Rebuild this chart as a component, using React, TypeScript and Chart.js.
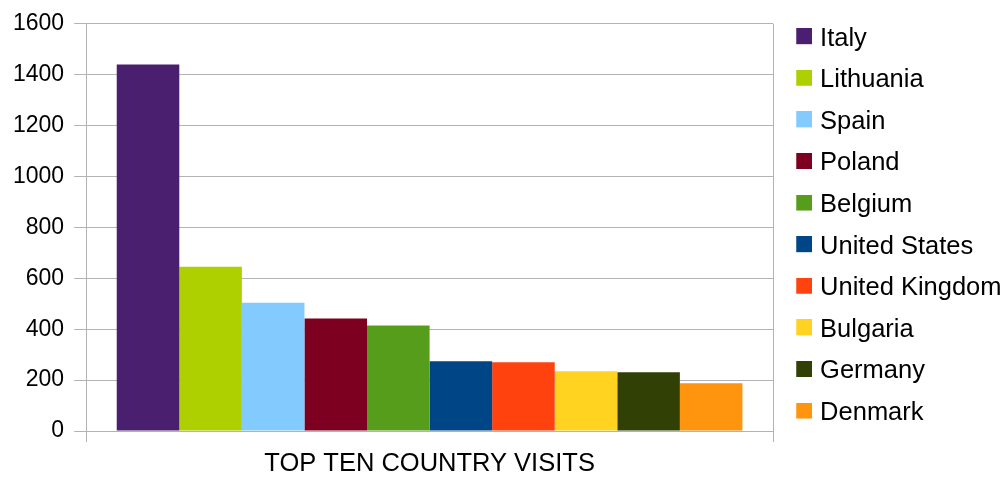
import React, { useEffect, useRef } from "react";
import { Chart, registerables } from "chart.js";

Chart.register(...registerables);

const categories = ["TOP TEN COUNTRY VISITS"];
const countries = [
  "Italy",
  "Lithuania",
  "Spain",
  "Poland",
  "Belgium",
  "United States",
  "United Kingdom",
  "Bulgaria",
  "Germany",
  "Denmark",
];
const visits = [1440, 645, 504, 442, 415, 274, 270, 235, 231, 188];
const palette = [
  "#4b1f6f",
  "#aecf00",
  "#83caff",
  "#7e0021",
  "#579d1c",
  "#004586",
  "#ff420e",
  "#ffd320",
  "#314004",
  "#ff950e",
];
const yTicks = [0, 200, 400, 600, 800, 1000, 1200, 1400, 1600];

function makeMarker(color: string) {
  const c = document.createElement("canvas");
  c.width = 28;
  c.height = 21;
  const g = c.getContext("2d")!;
  g.fillStyle = color;
  g.fillRect(12, 0, 16, 16);
  return c;
}

export default function App() {
  const ref = useRef<HTMLCanvasElement | null>(null);

  useEffect(() => {
    if (!ref.current) return;
    const family = "'Liberation Sans', Arial, sans-serif";
    const bigFont = { family, size: 25.5 };
    const tickFont = { family, size: 23 };
    const markers = palette.map(makeMarker);
    const chart = new Chart(ref.current, {
      type: "bar",
      data: {
        labels: categories,
        datasets: countries.map((name, i) => ({
          label: name,
          data: [visits[i]],
          backgroundColor: palette[i],
          borderWidth: 0,
          categoryPercentage: 0.911,
          barPercentage: 1,
        })),
      },
      options: {
        animation: false,
        responsive: true,
        maintainAspectRatio: false,
        layout: { padding: { left: 3, top: 8, right: 0, bottom: 0 } },
        plugins: {
          tooltip: { enabled: false },
          legend: {
            position: "right",
            align: "start",
            maxWidth: 234,
            title: { display: true, text: "", padding: 0, font: { family, size: 1.5 } },
            labels: {
              font: bigFont,
              color: "#000",
              usePointStyle: true,
              pointStyleWidth: 18.25,
              boxWidth: 16,
              boxHeight: 16,
              padding: 16.1,
              generateLabels: (ch: any) => {
                const items = (Chart as any).defaults.plugins.legend.labels.generateLabels(ch);
                return items.map((it: any) => ({
                  ...it,
                  pointStyle: markers[it.datasetIndex],
                  lineWidth: 0,
                }));
              },
            },
          },
        },
        scales: {
          x: {
            afterFit: (axis: any) => {
              axis.height = 48;
            },
            grid: {
              offset: true,
              color: "#b3b3b3",
              tickLength: 11,
              drawTicks: true,
            },
            border: { color: "#b3b3b3" },
            ticks: { font: bigFont, color: "#000", padding: 7 },
          },
          y: {
            min: 0,
            max: 1600,
            afterBuildTicks: (axis: any) => {
              axis.ticks = yTicks.map((v) => ({ value: v }));
            },
            grid: { color: "#b3b3b3", tickLength: 12 },
            border: { color: "#b3b3b3" },
            ticks: {
              font: tickFont,
              color: "#000",
              padding: 10,
              callback: (v: any) => String(v),
            },
          },
        },
      },
    });
    return () => chart.destroy();
  }, []);

  return (
    <div style={{ position: "fixed", left: 0, top: 0, width: 1007, height: 479, background: "#fff" }}>
      <canvas ref={ref} />
    </div>
  );
}
